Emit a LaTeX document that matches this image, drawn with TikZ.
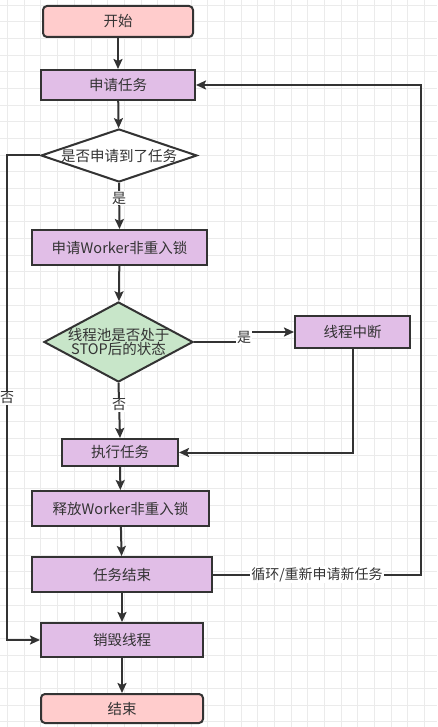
\documentclass[tikz,border=0pt]{standalone}
\usepackage{fontspec}
\setmainfont{Noto Sans CJK SC}
\usetikzlibrary{shapes.geometric,arrows.meta}
\definecolor{pinkf}{HTML}{FFCCCC}
\definecolor{purf}{HTML}{E1BEE7}
\definecolor{grnf}{HTML}{C8E6C9}
\definecolor{edge}{HTML}{333333}
\definecolor{gridc}{HTML}{EBEBEB}
\tikzset{
  base/.style={draw=edge, line width=2pt, text=edge, font=\fontsize{14.5}{16}\selectfont, inner sep=0pt, anchor=center},
  term/.style={base, fill=pinkf, rounded corners=4pt},
  proc/.style={base, fill=purf},
  dec/.style={base, diamond, aspect=2.9, align=center},
  conn/.style={draw=edge, line width=2pt, -{Stealth[length=10pt,width=9pt,inset=2pt]}},
  lbl/.style={fill=white, text=edge, font=\fontsize{14}{15}\selectfont, inner sep=1pt}
}
\begin{document}
\begin{tikzpicture}[x=1pt,y=-1pt]
\useasboundingbox (0,0) rectangle (437,727);
\fill[white] (0,0) rectangle (437,727);
\foreach \i in {0,...,26} {\draw[gridc, line width=0.7pt] ({7.5+16.67*\i},0) -- ({7.5+16.67*\i},727);}
\foreach \j in {0,...,43} {\draw[gridc, line width=0.7pt] (0,{5+16.67*\j}) -- (437,{5+16.67*\j});}

\node[term, minimum width=150pt, minimum height=31pt] (start) at (118,21.5) {开始};
\node[proc, minimum width=154pt, minimum height=30pt] (req) at (118,85) {申请任务};
\node[dec, fill=white, minimum width=156pt, minimum height=53pt] (d1) at (119,155.5) {};
\node[text=edge, font=\fontsize{14.5}{16}\selectfont] at (119,155.5) {是否申请到了任务};
\node[proc, minimum width=175pt, minimum height=35pt] (lock) at (119.5,247.5) {申请Worker非重入锁};
\node[dec, fill=grnf, minimum width=149pt, minimum height=80pt] (d2) at (118.5,342) {};
\node[text=edge, font=\fontsize{14.5}{16}\selectfont, align=center, inner sep=0pt] at (118.5,342) {线程池是否处于\\[-2pt]STOP后的状态};
\node[proc, minimum width=115pt, minimum height=32pt] (intr) at (352.5,332) {线程中断};
\node[proc, minimum width=116pt, minimum height=27pt] (exec) at (120,452.5) {执行任务};
\node[proc, minimum width=177pt, minimum height=35pt] (rel) at (120.5,508.5) {释放Worker非重入锁};
\node[proc, minimum width=180pt, minimum height=35pt] (tend) at (122,574.5) {任务结束};
\node[proc, minimum width=162pt, minimum height=34pt] (dest) at (122,640) {销毁线程};
\node[term, minimum width=162pt, minimum height=29pt] (end) at (122,708.5) {结束};

\coordinate (a1) at (7,155.5);
\coordinate (a2) at (7,640);
\coordinate (b1) at (244,342);
\coordinate (b2) at (244,332);
\coordinate (c1) at (352.5,452.5);
\coordinate (e1) at (421,574.5);
\coordinate (e2) at (421,85);

\draw[conn] (start) -- (req);
\draw[conn] (req) -- (d1);
\draw[conn] (d1.south) -- node[lbl, pos=0.33] {是} (lock.north);
\draw[conn] (lock) -- (d2);
\draw[conn] (d2.south) -- node[lbl, pos=0.4] {否} (exec.north);
\draw[conn] (d2.east) -- (b1) -- node[lbl] {是} (b2) -- (intr.west);
\draw[conn] (intr.south) -- (c1) -- (exec.east);
\draw[conn] (exec) -- (rel);
\draw[conn] (rel) -- (tend);
\draw[conn] (tend) -- (dest);
\draw[conn] (dest) -- (end);
\draw[conn] (d1.west) -- (a1) -- node[lbl, pos=0.5] {否} (a2) -- (dest.west);
\draw[conn] (tend.east) -- node[lbl, pos=0.5] {循环/重新申请新任务} (e1) -- (e2) -- (req.east);
\end{tikzpicture}
\end{document}
